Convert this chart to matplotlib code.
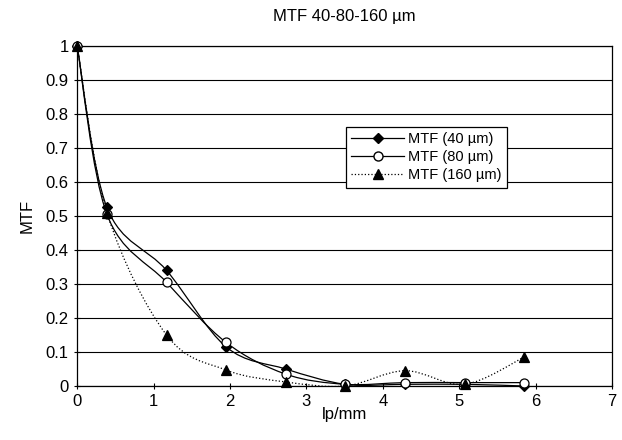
import numpy as np
import matplotlib.pyplot as plt
from matplotlib.path import Path
from matplotlib.patches import PathPatch
from matplotlib.lines import Line2D

plt.rcParams['font.family'] = ['Liberation Sans', 'DejaVu Sans']

lpmm = [0, 0.39, 1.17, 1.95, 2.73, 3.51, 4.29, 5.07, 5.85]
mtf40 = [1.0, 0.525, 0.34, 0.115, 0.05, 0.005, 0.005, 0.005, 0.0]
mtf80 = [1.0, 0.505, 0.305, 0.128, 0.035, 0.005, 0.01, 0.01, 0.01]
mtf160 = [1.0, 0.51, 0.15, 0.047, 0.012, 0.0, 0.045, 0.005, 0.085]
labels = ['MTF (40 µm)', 'MTF (80 µm)', 'MTF (160 µm)']


def smooth_path(x, y, t=1/6):
    # Catmull-Rom style bezier through the points (like Excel "smoothed line")
    p = np.column_stack([x, y])
    verts = [p[0]]
    codes = [Path.MOVETO]
    n = len(p)
    for i in range(n - 1):
        p0 = p[i - 1] if i > 0 else p[i]
        p1 = p[i]
        p2 = p[i + 1]
        p3 = p[i + 2] if i + 2 < n else p[i + 1]
        c1 = p1 + (p2 - p0) * t
        c2 = p2 - (p3 - p1) * t
        verts += [c1, c2, p2]
        codes += [Path.CURVE4] * 3
    return Path(verts, codes)


fig = plt.figure(figsize=(6.22, 4.4), dpi=100)
ax = fig.add_axes([0.124, 0.1227, 0.86, 0.7728])

ax.grid(axis='y', color='black', linewidth=0.8)
ax.set_axisbelow(True)

styles = [
    (mtf40, 'D', 'black', '-', 5.5),
    (mtf80, 'o', 'white', '-', 6.5),
    (mtf160, '^', 'black', ':', 7),
]
handles = []
for (vals, m, fc, ls, ms), lab in zip(styles, labels):
    patch = PathPatch(smooth_path(lpmm, vals), facecolor='none', edgecolor='black',
                      linewidth=0.9, linestyle=ls, zorder=3)
    ax.add_patch(patch)
    ax.plot(lpmm, vals, linestyle='none', marker=m, markersize=ms, clip_on=False,
            markerfacecolor=fc, markeredgecolor='black', markeredgewidth=0.9, zorder=4)
    handles.append(Line2D([], [], color='black', linestyle=ls, linewidth=0.9, marker=m,
                          markersize=ms, markerfacecolor=fc, markeredgecolor='black'))

ax.set_xlim(0, 7)
ax.set_ylim(0, 1)
ax.set_xticks(range(0, 8))
ax.set_yticks(np.arange(0, 1.01, 0.1))
ax.set_yticklabels(['0'] + ['%.1f' % v for v in np.arange(0.1, 0.95, 0.1)] + ['1'])
ax.tick_params(labelsize=12, direction='inout', length=5, width=0.8)
for s in ax.spines.values():
    s.set_linewidth(0.9)

ax.set_title('MTF 40-80-160 µm', fontsize=12, pad=18)
ax.set_xlabel('lp/mm', fontsize=12, labelpad=-2)
ax.set_ylabel('MTF', fontsize=12, labelpad=8)

leg = ax.legend(handles, labels, loc='upper left', bbox_to_anchor=(0.503, 0.763),
                fontsize=10.5, handlelength=3.6, frameon=True, fancybox=False,
                edgecolor='black', framealpha=1, borderpad=0.35, labelspacing=0.3,
                handletextpad=0.3, borderaxespad=0)
leg.get_frame().set_linewidth(0.9)

fig.savefig('out.png', dpi=100)
